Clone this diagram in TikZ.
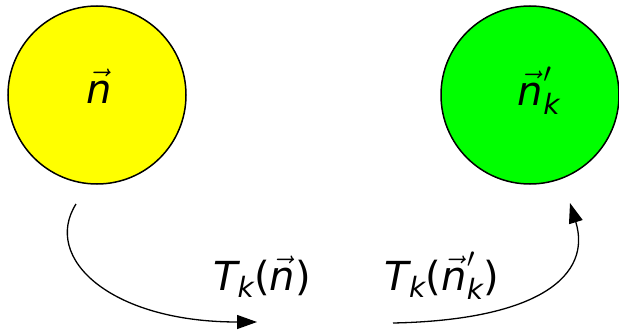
\RequirePackage{fix-cm}
\documentclass[tikz,border=0pt]{standalone}
\usepackage{amsmath}
\usepackage{fontspec}
\setmainfont{DejaVu Sans}
\usepackage{tikz}
\usetikzlibrary{positioning,arrows.meta}
\definecolor{nyellow}{HTML}{FFFF00}
\definecolor{ngreen}{HTML}{00FF00}
\newcommand{\itx}[1]{\text{\itshape #1}}
\newcommand{\vn}{\vec{\itx{n}}}

\begin{document}
\begin{tikzpicture}[x=1pt,y=-1pt,
      ball/.style={circle,draw=black,line width=1.5pt,minimum size=178pt,inner sep=0pt},
      lbl/.style={font=\fontsize{40}{48}\selectfont,inner sep=0pt,anchor=base},
      trans/.style={-{Triangle[length=20pt,width=14pt]},line width=1.3pt}]
    \useasboundingbox (0,0) rectangle (619,332);
    \node[ball,fill=nyellow] (src) at (97,95) {};
    \node[ball,fill=ngreen] (dst) at (530,95) {};
    \node[lbl] (srclbl) at (99,103) {$\vn$};
    \node[lbl] (dstlbl) at (539,105) {$\vn'_{\itx{k}}$};
    \node[lbl] (fwd) at (262,290) {$\itx{T}_{\itx{k}}\text{(}\vn\text{)}$};
    \node[lbl] (bwd) at (442,290) {$\itx{T}_{\itx{k}}\text{(}\vn'_{\itx{k}}\text{)}$};
    \coordinate (fwdin) at (76,204);
    \coordinate (fwdout) at (257,322);
    \coordinate (bwdin) at (393,323);
    \coordinate (bwdout) at (570,203);
    \draw[trans] (fwdin) .. controls (42,258) and (110,322) .. (fwdout);
    \draw[trans] (bwdin) .. controls (540,320) and (592,275) .. (bwdout);
  \end{tikzpicture}
\end{document}
